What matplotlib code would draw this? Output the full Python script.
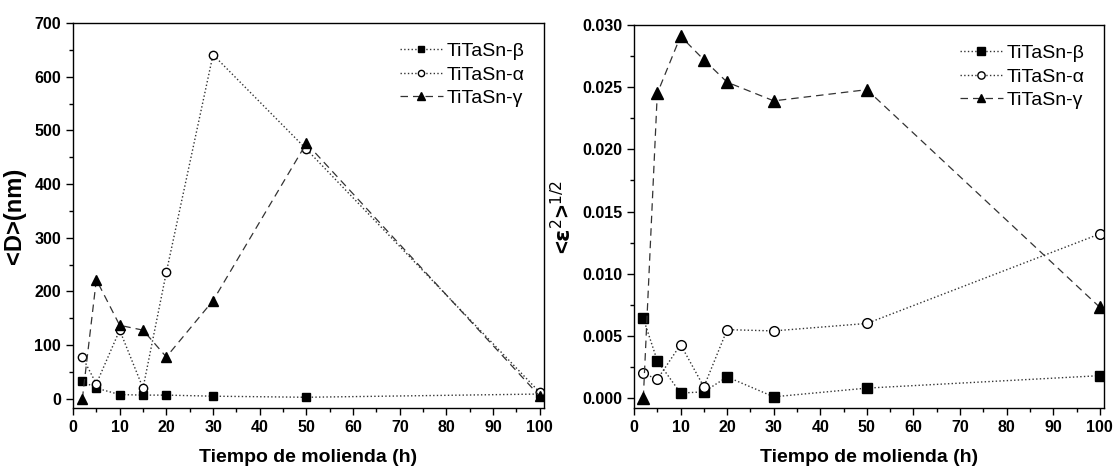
import matplotlib.pyplot as plt
from matplotlib.ticker import MultipleLocator

plt.rcParams['font.family'] = ['Liberation Sans', 'DejaVu Sans']

tiempo = [2, 5, 10, 15, 20, 30, 50, 100]
etiquetas = ['TiTaSn-\u03b2', 'TiTaSn-\u03b1', 'TiTaSn-\u03b3']

# tamano de cristalito <D> (nm)
d_beta = [33, 20, 8, 7, 7, 5, 3, 9]
d_alfa = [78, 28, 128, 20, 236, 641, 465, 12]
d_gamma = [0, 222, 137, 128, 78, 183, 476, 5]

# microdeformacion <e^2>^1/2
e_beta = [0.0064, 0.0030, 0.0004, 0.0005, 0.0017, 0.0001, 0.0008, 0.0018]
e_alfa = [0.0020, 0.0015, 0.0043, 0.0009, 0.0055, 0.0054, 0.0060, 0.0132]
e_gamma = [0.0000, 0.0245, 0.0291, 0.0272, 0.0254, 0.0239, 0.0248, 0.0073]

fig = plt.figure(figsize=(11.14, 4.67), dpi=100)
ax1 = fig.add_axes([73 / 1114, 59 / 467, 471 / 1114, 385 / 467])
ax2 = fig.add_axes([634 / 1114, 59 / 467, 470 / 1114, 383 / 467])


def dibujar(ax, beta, alfa, gamma, ms):
    ax.plot(tiempo, beta, color='#333333', ls=':', lw=1, marker='s', ms=ms,
            mfc='black', mec='black', label=etiquetas[0])
    ax.plot(tiempo, alfa, color='#333333', ls=':', lw=1, marker='o', ms=ms,
            mfc='white', mec='black', label=etiquetas[1])
    ax.plot(tiempo, gamma, color='#333333', ls=(0, (6, 4)), lw=0.9, marker='^',
            ms=ms + 1, mfc='black', mec='black', label=etiquetas[2])
    ax.set_xlim(0, 100.9)
    ax.xaxis.set_major_locator(MultipleLocator(10))
    ax.xaxis.set_minor_locator(MultipleLocator(5))
    ax.tick_params(which='both', direction='out', width=1)
    ax.tick_params(which='major', length=5, labelsize=11.5)
    ax.tick_params(which='minor', length=3)
    for sp in ax.spines.values():
        sp.set_linewidth(1)
    ax.set_xlabel('Tiempo de molienda (h)', fontsize=14, fontweight='bold',
                  labelpad=10)
    ax.legend(loc='upper right', frameon=False, fontsize=14, handlelength=2.2,
              handletextpad=0.2, labelspacing=0.3, borderaxespad=0.6,
              markerscale=0.75)


dibujar(ax1, d_beta, d_alfa, d_gamma, 6)
ax1.set_ylim(-17, 700)
ax1.yaxis.set_major_locator(MultipleLocator(100))
ax1.yaxis.set_minor_locator(MultipleLocator(50))
ax1.set_ylabel('<D>(nm)', fontsize=17, fontweight='bold', labelpad=6)

dibujar(ax2, e_beta, e_alfa, e_gamma, 7)
ax2.set_ylim(-0.0008, 0.030)
ax2.yaxis.set_major_locator(MultipleLocator(0.005))
ax2.yaxis.set_minor_locator(MultipleLocator(0.0025))
ax2.yaxis.set_major_formatter(plt.FormatStrFormatter('%.3f'))
ax2.set_ylabel(r'<$\mathbf{\varepsilon}^{2}$>$^{1/2}$', fontsize=16,
               fontweight='bold', labelpad=4)

for ax in (ax1, ax2):
    for lab in ax.get_xticklabels() + ax.get_yticklabels():
        lab.set_fontweight('bold')

fig.savefig('out.png', dpi=100)
